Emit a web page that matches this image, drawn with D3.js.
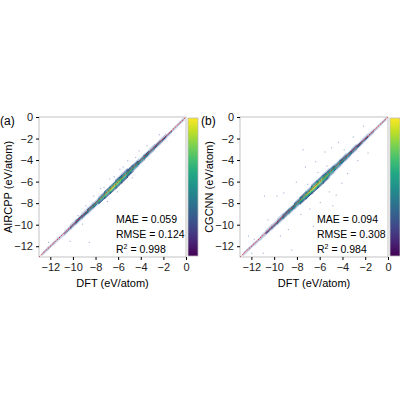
<html>
<head>
<style>body{margin:0;background:#fff} text{font-family:Arial,"Liberation Sans",sans-serif}</style>
</head>
<body>
<script src="https://d3js.org/d3.v7.min.js"></script>
<script>
// data: density ridge along the diagonal (DFT value, peak density 0..1, half-width in eV)
var bandX     = [-12.5,-12,-11.5,-11,-10.5,-10,-9.5,-9,-8.5,-8,-7.5,-7,-6.5,-6,-5.5,-5,-4.5,-4,-3.5,-3,-2.5,-2,-1.5,-1,-0.5];
var densA     = [0.02,0.03,0.04,0.05,0.08,0.12,0.18,0.25,0.35,0.45,0.6,0.75,0.9,0.8,0.65,0.55,0.45,0.4,0.32,0.25,0.18,0.12,0.07,0.04,0.02];
var widthA    = [0.1,0.1,0.12,0.15,0.18,0.2,0.22,0.25,0.28,0.3,0.32,0.35,0.38,0.4,0.4,0.35,0.32,0.3,0.28,0.25,0.22,0.2,0.15,0.12,0.1];
var densB     = [0.02,0.03,0.04,0.05,0.08,0.12,0.18,0.26,0.36,0.46,0.62,0.78,0.92,0.82,0.68,0.56,0.46,0.4,0.33,0.25,0.18,0.12,0.07,0.04,0.02];
var widthB    = [0.12,0.12,0.15,0.18,0.2,0.22,0.25,0.28,0.3,0.33,0.35,0.38,0.4,0.42,0.42,0.38,0.35,0.32,0.3,0.27,0.24,0.2,0.16,0.13,0.1];
// scattered outliers [DFT, predicted]
var outA = [[-12.2,-11.6],[-10.3,-11.5],[-8.6,-11.6],[-10.8,-10.9],[-9.6,-9.1],[-8.2,-7.3],[-7.6,-6.6],[-6.8,-5.7],[-5.9,-4.8],[-5.2,-4.0],[-4.2,-3.1],[-3.5,-2.6],[-9.2,-9.9],[-7.0,-7.8],[-6.1,-6.9],[-4.8,-5.6],[-2.4,-1.6],[-11.4,-11.2],[-6.4,-5.5],[-5.6,-4.6],[-4.5,-3.7],[-7.3,-6.5],[-8.9,-8.2]];
var outB = [[-12.3,-11.0],[-11.8,-11.3],[-11.0,-12.6],[-10.6,-9.5],[-9.2,-7.0],[-8.8,-10.4],[-8.1,-6.0],[-7.7,-9.0],[-7.3,-4.6],[-6.9,-8.5],[-6.4,-4.1],[-6.0,-7.9],[-5.6,-3.2],[-5.2,-6.9],[-4.9,-8.2],[-4.4,-2.3],[-4.1,-6.1],[-3.6,-5.2],[-3.1,-1.8],[-2.7,-4.0],[-2.2,-0.8],[-9.8,-7.3],[-10.9,-7.3],[-7.5,-3.0],[-8.5,-12.3],[-6.6,-10.1],[-3.9,-3.0],[-5.0,-2.8],[-9.5,-11.0],[-4.6,-7.2],[-1.8,-3.3],[-12.0,-12.6],[-6.2,-5.1],[-5.4,-4.5],[-7.1,-6.2]];
var ticks = [-12,-10,-8,-6,-4,-2,0];
var panels = [
  {label:"(a)", ylab:"AIRCPP (eV/atom)", dens:densA, width:widthA, out:outA, stats:["MAE = 0.059","RMSE = 0.124","0.998"], x0:39, x1:186, ly:8, sx:116},
  {label:"(b)", ylab:"CGCNN (eV/atom)", dens:densB, width:widthB, out:outB, stats:["MAE = 0.094","RMSE = 0.308","0.984"], x0:240, x1:388, ly:209, sx:317}
];

var svg = d3.select("body").append("svg").attr("width",400).attr("height",400);
var plotTop = 117, plotBot = 257;

panels.forEach(function(p){
  var x = d3.scaleLinear().domain([-13,0]).range([p.x0,p.x1]);
  var y = d3.scaleLinear().domain([-13,0]).range([plotBot,plotTop]);
  var g = svg.append("g");
  var cell = 0.1;
  // band cells
  p.dens.forEach(function(d,i){
    var cx = bandX[i];
    for (var xx = cx-0.25; xx < cx+0.25; xx += cell) {
      for (var off = -p.width[i]; off <= p.width[i]; off += cell) {
        var f = Math.abs(off+cell/2)/p.width[i];
        var v = d*Math.exp(-3*f*f);
        g.append("rect")
          .attr("x", x(xx)).attr("y", y(xx+off+cell))
          .attr("width", x(cell)-x(0)+0.15).attr("height", y(0)-y(cell)+0.15)
          .attr("fill", v < 0.06 ? "#b8c6e0" : d3.interpolateViridis(0.2+v*0.8));
      }
    }
  });
  g.selectAll(".o").data(p.out).enter().append("rect")
    .attr("x", function(d){return x(d[0]);}).attr("y", function(d){return y(d[1]);})
    .attr("width",1.1).attr("height",1.1).attr("fill","#9fb2d6");
  // diagonal
  g.append("line").attr("x1",x(-13)).attr("y1",y(-13)).attr("x2",x(0)).attr("y2",y(0))
    .attr("stroke","#e41a1c").attr("stroke-width",0.9).attr("stroke-dasharray","1.5,1");
  // frame
  g.append("rect").attr("x",p.x0).attr("y",plotTop).attr("width",p.x1-p.x0).attr("height",plotBot-plotTop)
    .attr("fill","none").attr("stroke","#999").attr("stroke-width",0.6);
  var fmt = function(d){return d===0?"0":"\u2212"+Math.abs(d);};
  svg.append("g").attr("transform","translate(0,"+plotBot+")")
    .call(d3.axisBottom(x).tickValues(ticks).tickSize(3).tickFormat(fmt))
    .call(function(a){a.select(".domain").remove(); a.selectAll("text").attr("font-size",11).attr("fill","#222");});
  svg.append("g").attr("transform","translate("+p.x0+",0)")
    .call(d3.axisLeft(y).tickValues(ticks).tickSize(3).tickFormat(fmt))
    .call(function(a){a.select(".domain").remove(); a.selectAll("text").attr("font-size",11).attr("fill","#222");});
  // colorbar
  var id = "cb"+p.label.charAt(1);
  var grad = svg.append("defs").append("linearGradient").attr("id",id)
    .attr("x1",0).attr("y1",1).attr("x2",0).attr("y2",0);
  d3.range(0,1.01,0.1).forEach(function(t){
    grad.append("stop").attr("offset",t).attr("stop-color",d3.interpolateViridis(t));
  });
  svg.append("rect").attr("x",p.x1+2).attr("y",plotTop+1).attr("width",10).attr("height",plotBot-plotTop-2)
    .attr("fill","url(#"+id+")").attr("stroke","#bbb").attr("stroke-width",0.8);
  // labels
  svg.append("text").attr("x",p.x0-39).attr("y",plotTop+8).attr("font-size",12).text(p.label);
  svg.append("text").attr("x",(p.x0+p.x1)/2).attr("y",plotBot+30).attr("text-anchor","middle").attr("font-size",11).text("DFT (eV/atom)");
  svg.append("text").attr("transform","translate("+(p.ly+4)+","+((plotTop+plotBot)/2)+") rotate(-90)")
    .attr("text-anchor","middle").attr("font-size",11).text(p.ylab);
  svg.append("text").attr("x",p.sx).attr("y",223).attr("font-size",10.5).text(p.stats[0]);
  svg.append("text").attr("x",p.sx).attr("y",238).attr("font-size",10.5).text(p.stats[1]);
  var r = svg.append("text").attr("x",p.sx).attr("y",253).attr("font-size",10.5);
  r.append("tspan").text("R");
  r.append("tspan").attr("dy",-4).attr("font-size",7).text("2");
  r.append("tspan").attr("dy",4).text(" = "+p.stats[2]);
});
</script>
</body>
</html>
